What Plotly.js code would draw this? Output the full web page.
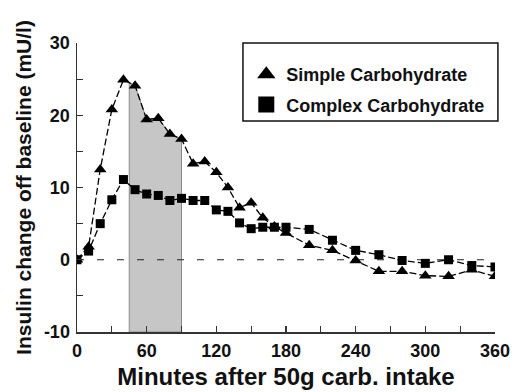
<!DOCTYPE html>
<html>
<head>
<meta charset="utf-8">
<script src="https://cdn.plot.ly/plotly-3.0.1.min.js"></script>
<style>html,body{margin:0;padding:0;background:#fff;}#chart{width:519px;height:392px;}</style>
</head>
<body>
<div id="chart"></div>
<script>
// Data (minutes after intake, insulin change in mU/l)
const simpleTime = [0,10,20,30,40,50,60,70,80,90,100,110,120,130,140,150,160,170,180,200,220,240,260,280,300,320,340,360];
const simpleVals = [0,1.8,12.5,20.8,24.9,24.1,19.4,19.6,17.4,16.7,13.3,13.6,12.1,10.0,7.2,7.9,5.8,4.6,3.7,2.0,1.3,-0.1,-1.6,-1.6,-2.2,-2.3,-1.4,-2.3];
const complexTime = [0,10,20,30,40,50,60,70,80,90,100,110,120,130,140,150,160,170,180,200,220,240,260,280,300,320,340,360];
const complexVals = [0,1.2,5.0,8.3,11.1,9.7,9.1,8.9,8.2,8.5,8.2,8.2,6.9,6.7,5.1,4.3,4.5,4.5,4.5,4.2,2.7,1.3,0.7,-0.1,-0.5,0.0,-0.8,-1.0];
const shadeWindow = [45, 90];
const xTicks = [0,30,60,90,120,150,180,210,240,270,300,330,360];
const xTickText = ['0','','60','','120','','180','','240','','300','','360'];
const yTicks = [-10,-5,0,5,10,15,20,25,30];
const yTickText = ['-10','','0','','10','','20','','30'];
const seriesNames = ['Simple Carbohydrate','Complex Carbohydrate'];

// build shaded area under simple curve within window
function interp(t){
  for(let i=0;i<simpleTime.length-1;i++){
    if(t>=simpleTime[i] && t<=simpleTime[i+1]){
      const f=(t-simpleTime[i])/(simpleTime[i+1]-simpleTime[i]);
      return simpleVals[i]+f*(simpleVals[i+1]-simpleVals[i]);
    }
  }
  return 0;
}
const yMin = yTicks[0];
const sx=[shadeWindow[0]], sy=[interp(shadeWindow[0])];
simpleTime.forEach((t,i)=>{ if(t>shadeWindow[0] && t<shadeWindow[1]){sx.push(t);sy.push(simpleVals[i]);} });
sx.push(shadeWindow[1]); sy.push(interp(shadeWindow[1]));
sx.push(shadeWindow[1]); sy.push(yMin);
sx.push(shadeWindow[0]); sy.push(yMin);
sx.push(shadeWindow[0]); sy.push(sy[0]);

const FONT = 'Liberation Sans, Arial, Helvetica, sans-serif';

const traces = [
  {x:sx, y:sy, type:'scatter', mode:'lines', fill:'toself', fillcolor:'#c6c6c6',
   line:{color:'#8a8a8a', width:1}, showlegend:false, hoverinfo:'skip'},
  {x:[xTicks[0], xTicks[xTicks.length-1]], y:[0,0], type:'scatter', mode:'lines',
   line:{color:'#222', width:1.2, dash:'7px,13px'}, showlegend:false},
  {x:simpleTime, y:simpleVals, type:'scatter', mode:'lines+markers',
   line:{color:'#000', width:1.3, dash:'7px,3px'},
   marker:{symbol:'triangle-up', size:11, color:'#000'}, showlegend:false},
  {x:complexTime, y:complexVals, type:'scatter', mode:'lines+markers',
   line:{color:'#000', width:1.3, dash:'7px,3px'},
   marker:{symbol:'square', size:9, color:'#000'}, showlegend:false},
  {x:[null], y:[null], type:'scatter', mode:'markers', name:seriesNames[0], legendgroup:'a',
   marker:{symbol:'triangle-up', size:22, color:'#000'}},
  {x:[null], y:[null], type:'scatter', mode:'markers', name:seriesNames[1], legendgroup:'b',
   marker:{symbol:'square', size:22, color:'#000'}}
];

const layout = {
  width:519, height:392,
  margin:{l:77, r:24, t:43, b:60},
  paper_bgcolor:'#fff', plot_bgcolor:'#fff',
  font:{family:FONT, color:'#111'},
  xaxis:{range:[xTicks[0], xTicks[xTicks.length-1]], tickvals:xTicks, ticktext:xTickText,
    ticks:'inside', ticklen:6, tickwidth:1.2, tickcolor:'#333', ticklabelstandoff:2,
    showline:true, linecolor:'#333', linewidth:1.5, showgrid:false, zeroline:false,
    tickfont:{size:18, weight:'bold', family:FONT, color:'#111'},
    title:{text:'Minutes after 50g carb. intake', font:{size:24, weight:'bold', family:FONT, color:'#111'}, standoff:8}},
  yaxis:{range:[yTicks[0], yTicks[yTicks.length-1]], tickvals:yTicks, ticktext:yTickText,
    ticks:'inside', ticklen:6, tickwidth:1.2, tickcolor:'#333', ticklabelstandoff:2,
    showline:true, linecolor:'#333', linewidth:1.5, showgrid:false, zeroline:false,
    tickfont:{size:18, weight:'bold', family:FONT, color:'#111'},
    title:{text:'Insulin change off baseline (mU/l)', font:{size:21, weight:'bold', family:FONT, color:'#111'}, standoff:6}},
  showlegend:true,
  legend:{x:0.405, y:0.955, xanchor:'left', yanchor:'top', bgcolor:'rgba(0,0,0,0)',
    borderwidth:0, tracegroupgap:4,
    font:{size:18, weight:'bold', family:FONT, color:'#111'}},
  shapes:[{type:'rect', xref:'paper', yref:'paper', x0:0.397, x1:1.007, y0:0.73, y1:1.0,
    line:{color:'#111', width:1.5}, fillcolor:'rgba(0,0,0,0)'}]
};

Plotly.newPlot('chart', traces, layout, {displayModeBar:false, staticPlot:true});
</script>
</body>
</html>
